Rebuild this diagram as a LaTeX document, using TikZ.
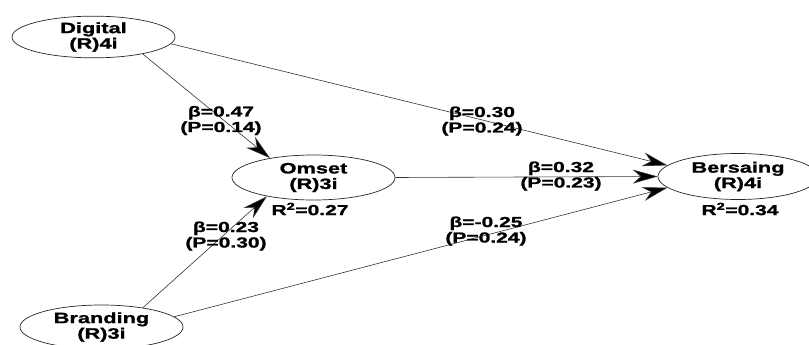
\documentclass[tikz,border=0pt]{standalone}
\usepackage{fontspec}
\setmainfont{Liberation Sans}[FakeStretch=1.45, BoldFeatures={FakeBold=1.3}]
\usetikzlibrary{shapes.geometric,arrows.meta}
\begin{document}
\begin{tikzpicture}[x=1pt,y=-1pt,
  lv/.style={draw=black!85, line width=0.7pt, ellipse, minimum width=163pt, minimum height=45pt, inner sep=0pt, align=center,
    font=\fontsize{15}{15.5}\selectfont\bfseries},
  lbl/.style={align=center, inner sep=0pt, font=\fontsize{14.5}{15.5}\selectfont\bfseries},
  path/.style={draw=black!80, line width=0.6pt, -{Stealth[length=25pt, width=14pt, inset=8pt, fill=black]}}
]
\useasboundingbox (0,0) rectangle (809,345);
\node[lv, minimum height=40pt] (dig) at (93.5,37) {Digital\\(R)4i};
\node[lv] (oms) at (313.5,177.5) {Omset\\(R)3i};
\node[lv, minimum width=160pt, minimum height=46pt] (ber) at (738,176.5) {Bersaing\\(R)4i};
\node[lv, minimum height=44pt] (bra) at (101.5,327) {Branding\\(R)3i};

\draw[path] (dig.-19) -- (oms.156);
\draw[path] (dig.-5) -- (ber.171);
\draw[path] (oms.east) -- (ber.west);
\draw[path] (bra.25) -- (oms.-158);
\draw[path] (bra.8) -- (ber.189);

\node[lbl] (l1) at (221,120.5) {β=0.47\\(P=0.14)};
\node[lbl] (l2) at (482,121) {β=0.30\\(P=0.24)};
\node[lbl] (l3) at (561,176) {β=0.32\\(P=0.23)};
\node[lbl] (l4) at (226,236) {β=0.23\\(P=0.30)};
\node[lbl] (l5) at (486,231) {β=-0.25\\(P=0.24)};
\node[lbl] (r1) at (310,209) {R\textsuperscript{2}=0.27};
\node[lbl] (r2) at (740,209) {R\textsuperscript{2}=0.34};
\end{tikzpicture}
\end{document}
